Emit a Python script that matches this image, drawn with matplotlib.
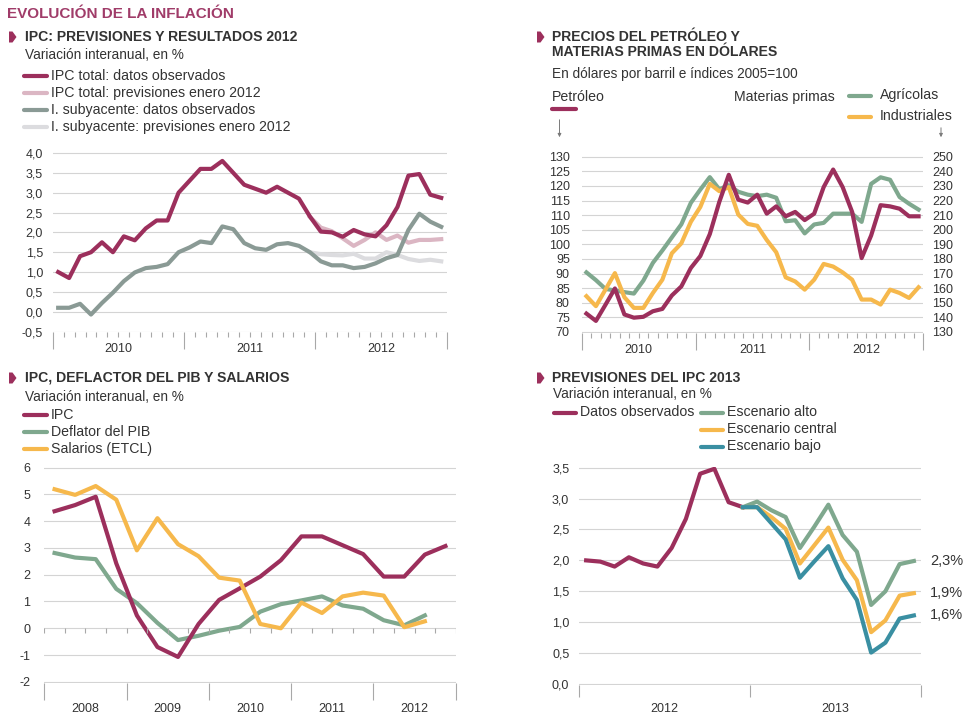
import numpy as np
import matplotlib.pyplot as plt
from matplotlib.lines import Line2D
from matplotlib.patches import Polygon, FancyArrowPatch

plt.rcParams['font.family'] = ['Liberation Sans', 'DejaVu Sans']

# ---------------- data ----------------
# IPC: previsiones y resultados 2012 (monthly, Jan 2010 - Dec 2012)
years_ipc = ['2010', '2011', '2012']
ipc_obs = [1.0, 0.85, 1.4, 1.5, 1.75, 1.5, 1.9, 1.8, 2.1, 2.3, 2.3, 3.0,
           3.3, 3.6, 3.6, 3.8, 3.5, 3.2, 3.1, 3.0, 3.15, 3.0, 2.85, 2.4,
           2.02, 2.0, 1.89, 2.06, 1.95, 1.9, 2.18, 2.64, 3.43, 3.47, 2.95, 2.87]
core_obs = [0.1, 0.1, 0.2, -0.07, 0.22, 0.48, 0.77, 0.99, 1.1, 1.13, 1.2, 1.5,
            1.62, 1.77, 1.73, 2.15, 2.08, 1.73, 1.6, 1.56, 1.7, 1.73, 1.66, 1.5,
            1.27, 1.17, 1.17, 1.1, 1.13, 1.22, 1.35, 1.43, 2.06, 2.47, 2.27, 2.14]
# forecasts of January 2012, starting in Dec 2011
ipc_prev = [2.39, 2.12, 2.03, 1.85, 1.66, 1.81, 2.0, 1.81, 1.92, 1.74, 1.81, 1.81, 1.83]
core_prev = [1.5, 1.45, 1.43, 1.42, 1.46, 1.34, 1.34, 1.5, 1.43, 1.33, 1.28, 1.31, 1.27]
prev_start = 23

# Petroleo y materias primas (monthly 2010-2012)
years_oil = ['2010', '2011', '2012']
oil = [76.3, 73.8, 79.3, 84.9, 76.0, 74.9, 75.2, 77.1, 77.9, 82.5, 85.6, 91.9,
       96.0, 103.5, 114.5, 123.8, 115.3, 114.3, 117.0, 110.5, 113.0, 109.6, 111.1, 108.3,
       110.5, 119.6, 125.6, 119.6, 111.1, 95.3, 103.0, 113.4, 113.0, 112.2, 109.6, 109.6]
agri = [170.8, 165.5, 159.5, 158.4, 157.3, 156.3, 165.2, 177.3, 185.8, 194.8, 203.7, 218.4,
        227.5, 236.0, 227.7, 230.5, 226.0, 224.0, 223.0, 224.0, 221.9, 205.8, 206.5, 197.5,
        203.6, 204.7, 211.0, 211.0, 211.0, 205.4, 231.4, 235.9, 234.2, 222.4, 217.8, 213.8]
indus = [154.5, 147.7, 159.0, 170.3, 153.8, 146.5, 146.5, 156.7, 165.8, 183.9, 190.7, 205.4,
         215.6, 231.4, 226.4, 229.2, 210.4, 204.0, 202.7, 193.0, 184.6, 167.4, 164.6, 159.0,
         165.8, 176.6, 174.8, 170.8, 165.8, 152.2, 152.2, 148.8, 159.0, 156.7, 153.3, 160.6]

# IPC, deflactor del PIB y salarios (quarterly 2008-2012)
years_q = ['2008', '2009', '2010', '2011', '2012']
q_ipc = [4.37, 4.6, 4.91, 2.42, 0.48, -0.7, -1.07, 0.16, 1.06, 1.49,
         1.93, 2.54, 3.43, 3.43, 3.1, 2.77, 1.93, 1.93, 2.75, 3.07]
q_defl = [2.81, 2.64, 2.58, 1.47, 0.94, 0.2, -0.44, -0.28, -0.09, 0.05,
          0.62, 0.9, 1.04, 1.19, 0.85, 0.73, 0.3, 0.11, 0.48]
q_sal = [5.19, 4.98, 5.31, 4.8, 2.91, 4.11, 3.14, 2.69, 1.89, 1.78,
         0.16, 0.0, 0.96, 0.57, 1.19, 1.33, 1.22, 0.04, 0.26]

# Previsiones del IPC 2013 (monthly 2012-2013)
years_f = ['2012', '2013']
f_obs = [2.0, 1.98, 1.9, 2.05, 1.95, 1.9, 2.2, 2.67, 3.4, 3.48, 2.94, 2.86]
f_alto = [2.86, 2.95, 2.81, 2.7, 2.2, 2.54, 2.9, 2.41, 2.14, 1.28, 1.5, 1.94, 1.99]
f_central = [2.86, 2.86, 2.7, 2.51, 1.95, 2.24, 2.53, 2.01, 1.68, 0.84, 1.03, 1.43, 1.47]
f_bajo = [2.86, 2.86, 2.6, 2.34, 1.72, 1.98, 2.23, 1.71, 1.36, 0.51, 0.67, 1.06, 1.11]
f_start = 11
f_labels = ['2,3%', '1,9%', '1,6%']

# ---------------- style ----------------
W, H = 980, 721
MAG = '#9c2f5c'
TITLE = '#a03c69'
PINK = '#dbb6c3'
CORE = '#8a9a95'
PALE = '#dcdcdf'
GREEN = '#7fa88e'
YELLOW = '#f6b84c'
TEAL = '#3a8fa2'
TXT = '#333333'
GRID = '#d4d4d4'
TICK = '#a8a8a8'
LW = 3

fig = plt.figure(figsize=(W / 100, H / 100), dpi=100)


def box(x0, y0, x1, y1):
    return [x0 / W, 1 - y1 / H, (x1 - x0) / W, (y1 - y0) / H]


def ftext(x, y, s, size=10, color=TXT, **kw):
    fig.text(x / W, 1 - y / H, s, fontsize=size, color=color, va='center', **kw)


def key(x0, x1, y, color):
    fig.add_artist(Line2D([x0 / W, x1 / W], [1 - y / H] * 2, color=color,
                          lw=LW, solid_capstyle='round'))


def bullet(x, y):
    pts = [(x, y - 5.5), (x + 3.5, y - 5.5), (x + 7.5, y), (x + 3.5, y + 5.5), (x, y + 5.5)]
    fig.add_artist(Polygon([(px / W, 1 - py / H) for px, py in pts],
                           closed=True, color=MAG, lw=0))


def down_arrow(x, y0, y1):
    fig.add_artist(FancyArrowPatch((x / W, 1 - y0 / H), (x / W, 1 - y1 / H),
                                   arrowstyle='-|>', mutation_scale=5,
                                   color='#7a7a7a', lw=0.7))


def style_y(ax, ticks, labels, pad, grid=True):
    ax.set_yticks(ticks, labels)
    ax.tick_params(axis='y', length=0, pad=pad, labelsize=9, labelcolor=TXT)
    if grid:
        ax.grid(axis='y', color=GRID, lw=0.8)
    ax.set_axisbelow(True)
    e = (ticks[-1] - ticks[0]) * 0.004
    ax.set_ylim(ticks[0] - e, ticks[-1] + e)
    for s in ax.spines.values():
        s.set_visible(False)


def style_x(ax, n, years, major_px, label_px, minor=True):
    step = n // len(years)
    ax.set_xlim(-0.5, n - 0.5)
    ax.set_xticks(np.arange(-0.5, n, step), labels=[])
    ax.tick_params(axis='x', which='major', length=major_px * 0.72,
                   width=0.8, color=TICK)
    if minor:
        ax.set_xticks(np.arange(-0.5, n, 1), minor=True)
        ax.tick_params(axis='x', which='minor', length=3.6, width=0.8, color=TICK)
    for k, yr in enumerate(years):
        ax.annotate(yr, xy=(k * step + step / 2 - 0.5, 0),
                    xycoords=('data', 'axes fraction'),
                    xytext=(0, -label_px * 0.72), textcoords='offset points',
                    ha='center', va='center', fontsize=9, color=TXT)


# ---------------- header ----------------
ftext(7, 14, 'EVOLUCIÓN DE LA INFLACIÓN', size=11, color=TITLE, weight='bold')

# ---------------- panel 1: IPC previsiones y resultados ----------------
bullet(9, 37)
ftext(25, 37, 'IPC: PREVISIONES Y RESULTADOS 2012', size=10.1, weight='bold')
ftext(25, 55, 'Variación interanual, en %', size=9.8)
for y, c, lab in [(76, MAG, 'IPC total: datos observados'),
                  (93, PINK, 'IPC total: previsiones enero 2012'),
                  (110, CORE, 'I. subyacente: datos observados'),
                  (127, PALE, 'I. subyacente: previsiones enero 2012')]:
    key(24, 47, y, c)
    ftext(51, y, lab, size=10.2)

ax1 = fig.add_axes(box(52.7, 152.3, 446.7, 332.3))
m = np.arange(len(ipc_obs))
mp = np.arange(prev_start, prev_start + len(ipc_prev))
ax1.plot(mp, core_prev, color=PALE, lw=LW)
ax1.plot(mp, ipc_prev, color=PINK, lw=LW)
ax1.plot(m, core_obs, color=CORE, lw=LW)
ax1.plot(m, ipc_obs, color=MAG, lw=LW)
t1 = np.arange(-0.5, 4.01, 0.5)
style_y(ax1, t1, [f'{v:.1f}'.replace('.', ',') for v in t1], pad=7)
style_x(ax1, 36, years_ipc, 17, 17)

# ---------------- panel 2: petroleo y materias primas ----------------
bullet(537, 37)
ftext(552, 37, 'PRECIOS DEL PETRÓLEO Y', size=10.1, weight='bold')
ftext(552, 52, 'MATERIAS PRIMAS EN DÓLARES', size=10.1, weight='bold')
ftext(552, 74, 'En dólares por barril e índices 2005=100', size=9.8)
ftext(552, 97, 'Petróleo', size=10.2)
key(552, 576, 109, MAG)
down_arrow(559.5, 117, 140)
ftext(734, 97, 'Materias primas', size=10.2)
key(849, 871, 96, GREEN)
ftext(880, 95, 'Agrícolas', size=10.2)
key(849, 871, 117, YELLOW)
ftext(880, 116, 'Industriales', size=10.2)
down_arrow(941, 125, 140)

ax2 = fig.add_axes(box(581.7, 156, 923.3, 332.7))
ax2r = ax2.twinx()
m2 = np.arange(len(oil))
ax2r.plot(m2, agri, color=GREEN, lw=LW)
ax2r.plot(m2, indus, color=YELLOW, lw=LW)
ax2.plot(m2, oil, color=MAG, lw=LW)
ax2.set_zorder(2)
ax2r.set_zorder(1)
ax2.patch.set_visible(False)
tl = np.arange(70, 131, 5)
tr = np.arange(130, 251, 10)
style_y(ax2, tl, [str(v) for v in tl], pad=8.6, grid=False)
style_y(ax2r, tr, [str(v) for v in tr], pad=6.5)
style_x(ax2, 36, years_oil, 17, 17)

# ---------------- panel 3: IPC, deflactor, salarios ----------------
bullet(9, 378)
ftext(25, 378, 'IPC, DEFLACTOR DEL PIB Y SALARIOS', size=10.1, weight='bold')
ftext(25, 397, 'Variación interanual, en %', size=9.8)
for y, c, lab in [(415, MAG, 'IPC'), (432, GREEN, 'Deflator del PIB'),
                  (449, YELLOW, 'Salarios (ETCL)')]:
    key(24, 47, y, c)
    ftext(51, y, lab, size=10.2)

ax3 = fig.add_axes(box(44.3, 466.7, 455.7, 682.7))
ax3.plot(np.arange(len(q_defl)), q_defl, color=GREEN, lw=LW)
ax3.plot(np.arange(len(q_ipc)), q_ipc, color=MAG, lw=LW)
ax3.plot(np.arange(len(q_sal)), q_sal, color=YELLOW, lw=LW)
t3 = np.arange(-2, 7, 1)
style_y(ax3, t3, [str(v) for v in t3], pad=10)
style_x(ax3, 20, years_q, 17, 26, minor=False)
ax3.vlines(np.arange(-0.5, 20, 1), -0.18, 0, color=TICK, lw=0.8)

# ---------------- panel 4: previsiones 2013 ----------------
bullet(537, 378)
ftext(552, 378, 'PREVISIONES DEL IPC 2013', size=10.1, weight='bold')
ftext(553, 394, 'Variación interanual, en %', size=9.8)
key(554, 576, 413, MAG)
ftext(580, 412, 'Datos observados', size=10.2)
for y, c, lab in [(413, GREEN, 'Escenario alto'), (430, YELLOW, 'Escenario central'),
                  (447, TEAL, 'Escenario bajo')]:
    key(701, 723, y, c)
    ftext(727, y - 1, lab, size=10.2)

ax4 = fig.add_axes(box(579, 466.7, 921, 685))
ax4.plot(np.arange(len(f_obs)), f_obs, color=MAG, lw=LW)
mf = np.arange(f_start, f_start + len(f_alto))
for series, c, lab in [(f_alto, GREEN, f_labels[0]), (f_central, YELLOW, f_labels[1]),
                       (f_bajo, TEAL, f_labels[2])]:
    ax4.plot(mf, series, color=c, lw=LW)
    ax4.annotate(lab, xy=(mf[-1], series[-1]), xytext=(11.5, 0),
                 textcoords='offset points', ha='left', va='center',
                 fontsize=10.5, color=TXT, annotation_clip=False)
t4 = np.arange(0, 3.51, 0.5)
style_y(ax4, t4, [f'{v:.1f}'.replace('.', ',') for v in t4], pad=7)
style_x(ax4, 24, years_f, 12, 24, minor=False)

fig.savefig('out.png', dpi=100)
